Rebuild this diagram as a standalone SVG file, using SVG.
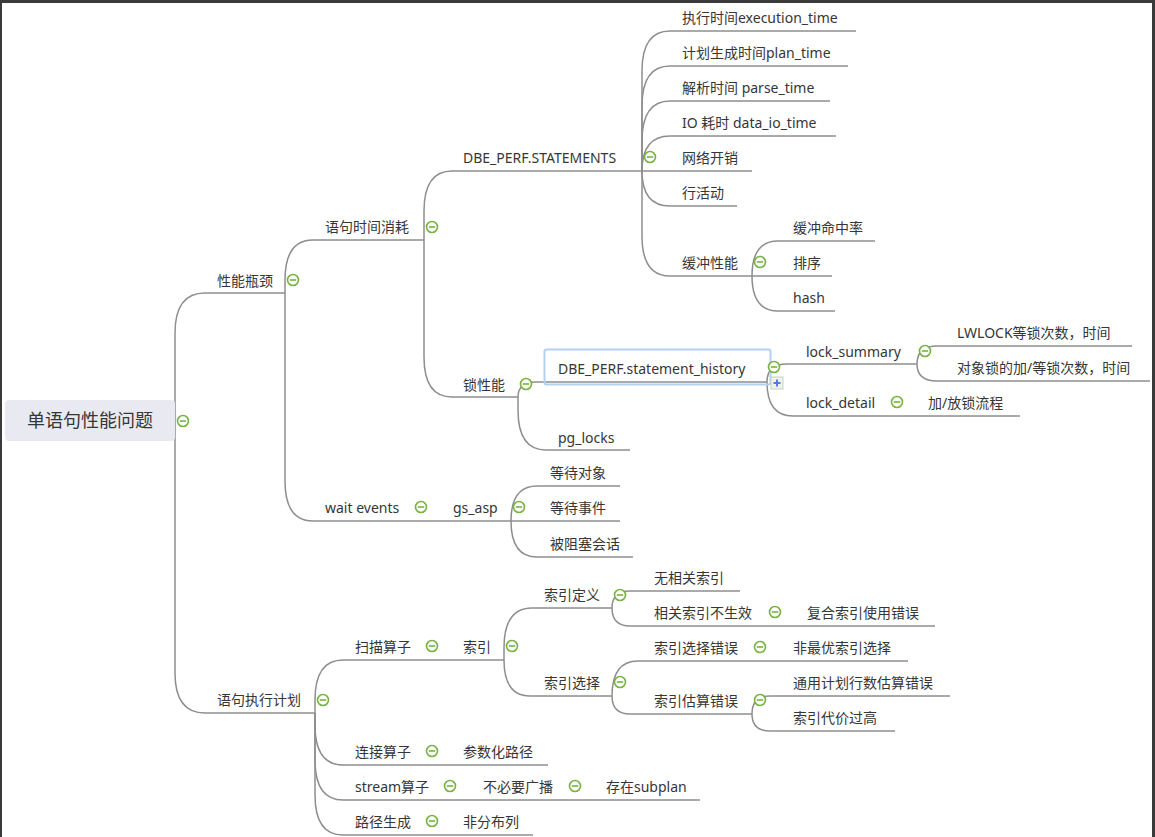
<svg xmlns="http://www.w3.org/2000/svg" width="1155" height="837" viewBox="0 0 1155 837">
<style>
text{font-family:"Noto Sans","Noto Sans CJK SC",sans-serif;font-size:14px;fill:#363636}
.root{font-size:18px}
#connectors path{fill:none;stroke:#8e8e8e;stroke-width:1.5}
.ic circle{fill:#fff;stroke:#76b33f;stroke-width:1.6}
.ic line{stroke:#76b33f;stroke-width:1.6}
</style>
<defs>
<g id="minus" class="ic"><circle cx="0" cy="0" r="5.5"/><line x1="-3.2" y1="0" x2="3.2" y2="0"/></g>
</defs>
<rect x="0" y="0" width="1155" height="837" fill="#fff"/>
<rect x="0" y="0" width="1155" height="3" fill="#3a3a3a"/>
<rect x="0" y="0" width="2" height="837" fill="#3a3a3a"/>
<rect x="1152" y="0" width="3" height="837" fill="#3a3a3a"/>

<g id="connectors">
<path d="M175 421 V333 Q175 293 205 293 H285"/>
<path d="M175 421 V673 Q175 713 205 713 H315"/>
<path d="M285 293 V280 Q285 240 313 240 H424"/>
<path d="M285 293 V481 Q285 521 313 521 H413"/>
<path d="M424 240 V211 Q424 171 452 171 H642"/>
<path d="M424 240 V357 Q424 397 452 397 H518"/>
<path d="M642 171 V71 Q642 31 670 31 H856"/>
<path d="M642 171 V106 Q642 66 670 66 H848"/>
<path d="M642 171 V141 Q642 101 670 101 H830"/>
<path d="M642 171 Q642 136 670 136 H836"/>
<path d="M642 171 H752"/>
<path d="M642 171 Q642 206 670 206 H737"/>
<path d="M642 171 V236 Q642 276 670 276 H752"/>
<path d="M752 276 Q752 241 778 241 H875"/>
<path d="M752 276 H832"/>
<path d="M752 276 Q752 311 778 311 H835"/>
<path d="M518 397 Q518 382 536 382 H767"/>
<path d="M518 397 V410 Q518 450 546 450 H630"/>
<path d="M767 382 Q767 364 787 364 H917"/>
<path d="M767 382 Q767 416 793 416 H889"/>
<path d="M917 364 Q917 346 937 346 H1132"/>
<path d="M917 364 Q917 381 937 381 H1150"/>
<path d="M889 416 H1020"/>
<path d="M413 521 H511"/>
<path d="M511 521 Q511 486 537 486 H620"/>
<path d="M511 521 H620"/>
<path d="M511 521 Q511 557 537 557 H633"/>
<path d="M315 713 V700 Q315 660 343 660 H424"/>
<path d="M315 713 V725 Q315 765 343 765 H424"/>
<path d="M315 713 V760 Q315 800 343 800 H442"/>
<path d="M315 713 V795 Q315 835 343 835 H424"/>
<path d="M424 660 H504"/>
<path d="M504 660 V648 Q504 608 532 608 H612"/>
<path d="M504 660 Q504 696 530 696 H612"/>
<path d="M612 608 Q612 591 630 591 H740"/>
<path d="M612 608 Q612 626 630 626 H767"/>
<path d="M767 626 H935"/>
<path d="M612 696 Q612 661 638 661 H752"/>
<path d="M612 696 Q612 714 630 714 H752"/>
<path d="M752 661 H908"/>
<path d="M752 714 Q752 696 770 696 H950"/>
<path d="M752 714 Q752 731 770 731 H895"/>
<path d="M424 765 H548"/>
<path d="M442 800 H567"/>
<path d="M567 800 H700"/>
<path d="M424 835 H533"/>
</g>

<g id="n-root">
<rect x="5" y="400" width="170" height="41" rx="4" fill="#e9eaf1"/>
<text class="root" x="27" y="427">单语句性能问题</text>
<use href="#minus" x="183" y="421"/>
</g>
<g id="n-pnpj"><text x="217" y="286">性能瓶颈</text><use href="#minus" x="293" y="280"/></g>
<g id="n-ysxh"><text x="325" y="232">语句时间消耗</text><use href="#minus" x="432" y="227"/></g>
<g id="n-statements"><text x="463" y="163">DBE_PERF.STATEMENTS</text><use href="#minus" x="650" y="157"/></g>
<g id="n-exec"><text x="682" y="23">执行时间execution_time</text></g>
<g id="n-plan"><text x="682" y="58">计划生成时间plan_time</text></g>
<g id="n-parse"><text x="682" y="93">解析时间 parse_time</text></g>
<g id="n-io"><text x="682" y="128">IO 耗时 data_io_time</text></g>
<g id="n-net"><text x="682" y="163">网络开销</text></g>
<g id="n-row"><text x="682" y="198">行活动</text></g>
<g id="n-buf"><text x="682" y="268">缓冲性能</text><use href="#minus" x="760" y="262"/></g>
<g id="n-hit"><text x="793" y="233">缓冲命中率</text></g>
<g id="n-sort"><text x="793" y="268">排序</text></g>
<g id="n-hash"><text x="793" y="303">hash</text></g>
<g id="n-lock"><text x="463" y="390">锁性能</text><use href="#minus" x="526" y="384"/></g>
<g id="n-history">
<rect x="544.5" y="349.5" width="226" height="35" rx="2" fill="none" stroke="#b4d0f2" stroke-width="2"/>
<text x="558" y="374">DBE_PERF.statement_history</text>
<use href="#minus" x="774" y="367"/>
<rect x="771" y="377" width="12" height="12" fill="#eef3ea" stroke="#c4d4bc" stroke-width="1"/>
<line x1="773.5" y1="383" x2="780.5" y2="383" stroke="#5a78e0" stroke-width="2"/>
<line x1="777" y1="379.5" x2="777" y2="386.5" stroke="#5a78e0" stroke-width="2"/>
</g>
<g id="n-pglocks"><text x="558" y="443">pg_locks</text></g>
<g id="n-locksum"><text x="806" y="357">lock_summary</text><use href="#minus" x="925" y="351"/></g>
<g id="n-lwlock"><text x="957" y="338">LWLOCK等锁次数，时间</text></g>
<g id="n-objlock"><text x="957" y="373">对象锁的加/等锁次数，时间</text></g>
<g id="n-lockdet"><text x="806" y="408">lock_detail</text><use href="#minus" x="897" y="402"/></g>
<g id="n-lockflow"><text x="928" y="408">加/放锁流程</text></g>
<g id="n-wait"><text x="325" y="513">wait events</text><use href="#minus" x="421" y="507"/></g>
<g id="n-gsasp"><text x="453" y="513">gs_asp</text><use href="#minus" x="519" y="507"/></g>
<g id="n-waitobj"><text x="550" y="478">等待对象</text></g>
<g id="n-waitevt"><text x="550" y="513">等待事件</text></g>
<g id="n-blocked"><text x="550" y="549">被阻塞会话</text></g>
<g id="n-plan2"><text x="217" y="705">语句执行计划</text><use href="#minus" x="323" y="700"/></g>
<g id="n-scan"><text x="355" y="652">扫描算子</text><use href="#minus" x="432" y="646"/></g>
<g id="n-index"><text x="463" y="652">索引</text><use href="#minus" x="512" y="646"/></g>
<g id="n-idxdef"><text x="544" y="600">索引定义</text><use href="#minus" x="620" y="595"/></g>
<g id="n-noidx"><text x="654" y="583">无相关索引</text></g>
<g id="n-idxinv"><text x="654" y="618">相关索引不生效</text><use href="#minus" x="775" y="612"/></g>
<g id="n-compidx"><text x="807" y="618">复合索引使用错误</text></g>
<g id="n-idxsel"><text x="544" y="688">索引选择</text><use href="#minus" x="620" y="682"/></g>
<g id="n-selerr"><text x="654" y="653">索引选择错误</text><use href="#minus" x="760" y="647"/></g>
<g id="n-nonopt"><text x="793" y="653">非最优索引选择</text></g>
<g id="n-esterr"><text x="654" y="706">索引估算错误</text><use href="#minus" x="760" y="700"/></g>
<g id="n-generic"><text x="793" y="688">通用计划行数估算错误</text></g>
<g id="n-cost"><text x="793" y="723">索引代价过高</text></g>
<g id="n-join"><text x="355" y="757">连接算子</text><use href="#minus" x="432" y="751"/></g>
<g id="n-param"><text x="463" y="757">参数化路径</text></g>
<g id="n-stream"><text x="355" y="792">stream算子</text><use href="#minus" x="450" y="786"/></g>
<g id="n-bcast"><text x="483" y="792">不必要广播</text><use href="#minus" x="575" y="786"/></g>
<g id="n-subplan"><text x="606" y="792">存在subplan</text></g>
<g id="n-path"><text x="355" y="827">路径生成</text><use href="#minus" x="432" y="821"/></g>
<g id="n-nondist"><text x="463" y="827">非分布列</text></g>
</svg>
